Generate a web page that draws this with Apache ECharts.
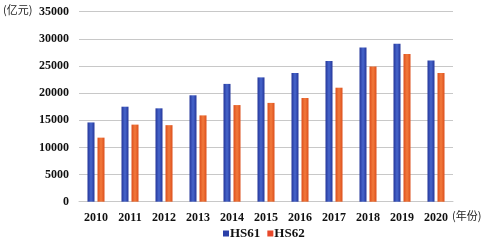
<!DOCTYPE html>
<html><head><meta charset="utf-8">
<script src="https://cdn.jsdelivr.net/npm/echarts@6/dist/echarts.min.js"></script>
<style>html,body{margin:0;padding:0;background:#fff}#c{width:484px;height:246px}</style>
</head><body><div id="c"></div>
<script>
var categories = ['2010','2011','2012','2013','2014','2015','2016','2017','2018','2019','2020'];
var hs61 = [14600,17500,17200,19600,21700,22900,23700,25900,28400,29100,26000];
var hs62 = [11800,14200,14100,15900,17800,18200,19100,21000,24900,27200,23700];
var yTicks = {min:0, max:35000, interval:5000};
var seriesNames = ['HS61','HS62'];
var yUnit = '(亿元)';
var xUnit = '(年份)';

var serif = '"Liberation Serif","Times New Roman",serif';
function grad(edge, mid){
  return new echarts.graphic.LinearGradient(0,0,1,0,[
    {offset:0,color:edge},{offset:0.5,color:mid},{offset:1,color:edge}]);
}
var chart = echarts.init(document.getElementById('c'));
chart.setOption({
  animation:false,
  grid:{left:79,right:31,top:11.7,bottom:44.3},
  legend:{bottom:1,left:218,itemWidth:6,itemHeight:6,itemGap:7,icon:'rect',
    textStyle:{fontFamily:serif,fontWeight:'bold',fontSize:13,color:'#111',padding:[0,0,0,-4]},
    data:[{name:seriesNames[0],itemStyle:{color:'#2b3fa8'}},{name:seriesNames[1],itemStyle:{color:'#e8482a'}}]},
  xAxis:{type:'category',data:categories,
    axisLine:{lineStyle:{color:'#c8c8c8',width:1}},axisTick:{show:false},
    axisLabel:{fontFamily:serif,fontWeight:'bold',fontSize:12,color:'#111',margin:10}},
  yAxis:{type:'value',min:yTicks.min,max:yTicks.max,interval:yTicks.interval,
    axisLine:{show:false},axisTick:{show:false},
    splitLine:{lineStyle:{color:'#c8c8c8',width:1}},
    axisLabel:{fontFamily:serif,fontWeight:'bold',fontSize:12,color:'#111',margin:10,
      formatter:function(v){return String(v);}}},
  series:[
    {name:seriesNames[0],type:'bar',data:hs61,barWidth:7,barGap:'43%',
      itemStyle:{color:grad('#24369a','#4766cc')}},
    {name:seriesNames[1],type:'bar',data:hs62,barWidth:7,
      itemStyle:{color:grad('#dc4f1c','#f27a3c')}}
  ],
  graphic:[
    {type:'text',left:3,top:4,style:{text:yUnit,font:'11px "Noto Sans CJK SC", serif',fill:'#222'}},
    {type:'text',left:452,top:210,style:{text:xUnit,font:'11px "Noto Sans CJK SC", serif',fill:'#222'}}
  ]
});
</script></body></html>
